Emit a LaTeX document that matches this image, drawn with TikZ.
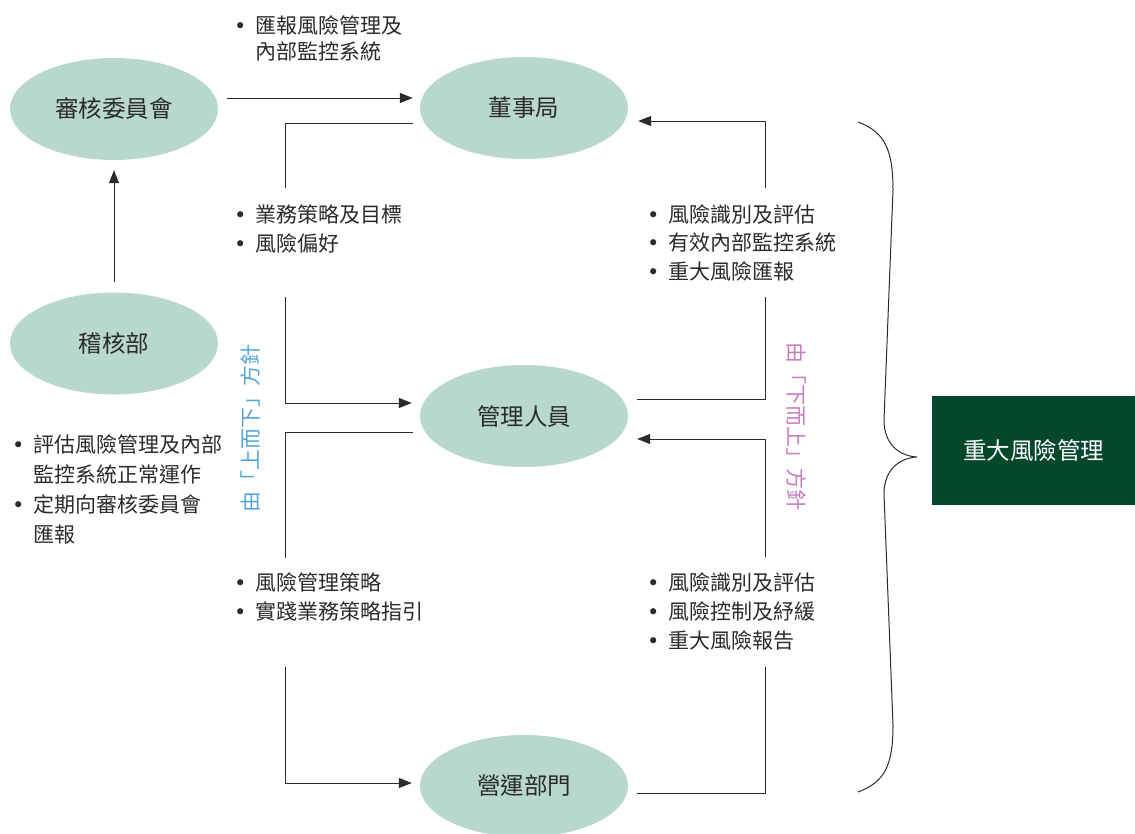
\documentclass[tikz,border=0pt]{standalone}
\usepackage{fontspec}
\setmainfont{Noto Sans CJK TC}
\newfontfamily\dejavu{DejaVu Sans}
\usetikzlibrary{arrows.meta,calc,shapes.geometric}
\definecolor{ellfill}{HTML}{B8D8CB}
\definecolor{boxgreen}{HTML}{03472D}
\definecolor{topdown}{HTML}{55A4DA}
\definecolor{bottomup}{HTML}{C87CBE}
\definecolor{ink}{HTML}{2B2B2B}
\newcommand\bl{\makebox[21pt][l]{\dejavu •}}
\newcommand\ind{\hspace*{21pt}}
\begin{document}
\begin{tikzpicture}[x=1pt,y=-1pt,
  ell/.style={ellipse, fill=ellfill, minimum width=208pt, minimum height=102pt, inner sep=0pt,
    font=\fontsize{23.5}{28}\selectfont, text=ink},
  conn/.style={line width=1pt, draw=ink},
  arr/.style={conn, -{Triangle[length=13pt,width=10pt]}},
  bul/.style={anchor=base west, inner sep=0pt, align=left, font=\fontsize{21}{29}\selectfont, text=ink},
  vtext/.style={inner sep=0pt, font=\fontsize{21}{21}\selectfont}]
\useasboundingbox (0,0) rectangle (1135,833);

% ellipses
\node[ell] (acm) at (114,109) {審核委員會};
\node[ell] (board) at (524,108) {董事局};
\node[ell] (audit) at (114,343.5) {稽核部};
\node[ell] (mgmt) at (524,416) {管理人員};
\node[ell] (ops) at (524,786) {營運部門};

% dark box
\node[fill=boxgreen, minimum width=203pt, minimum height=109pt, inner sep=0pt, text=white,
  font=\fontsize{23.5}{28}\selectfont] (risk) at (1033.5,450.5) {重大風險管理};

% text blocks (anchor = baseline of last line)
\node[bul, font=\fontsize{21}{26}\selectfont] (t1) at (234,59) {\bl 匯報風險管理及\\ \ind 內部監控系統};
\node[bul] (t2) at (234,251) {\bl 業務策略及目標\\ \bl 風險偏好};
\node[bul, font=\fontsize{21}{28.5}\selectfont] (t3) at (647,279) {\bl 風險識別及評估\\ \bl 有效內部監控系統\\ \bl 重大風險匯報};
\node[bul] (t4) at (234,619) {\bl 風險管理策略\\ \bl 實踐業務策略指引};
\node[bul] (t5) at (647,648) {\bl 風險識別及評估\\ \bl 風險控制及紓緩\\ \bl 重大風險報告};
\node[bul, font=\fontsize{21}{29.7}\selectfont] (t6) at (12,542) {\bl 評估風險管理及內部\\ \ind 監控系統正常運作\\ \bl 定期向審核委員會\\ \ind 匯報};

% vertical labels
\node[vtext, rotate=90, text=topdown] (td) at (251,428) {由「上而下」方針};
\node[vtext, rotate=-90, text=bottomup] (bu) at (796,426) {由「下而上」方針};

% gap coordinates
\coordinate (g1a) at (285,188);
\coordinate (g1b) at (285,297);
\coordinate (g2a) at (285,558);
\coordinate (g2b) at (285,667);
\coordinate (g3a) at (765,297);
\coordinate (g3b) at (765,188);
\coordinate (g4a) at (765,667);
\coordinate (g4b) at (765,557);

% connectors
\draw[arr] ($(acm.east)+(9,-11)$) -- ($(board.west)+(-7,-10)$);
\draw[arr] ($(audit.north)+(0,-10)$) -- ($(acm.south)+(0,10)$);

\draw[conn] ($(board.west)+(-7,15)$) -| (g1a);
\draw[arr] (g1b) |- ($(mgmt.west)+(-8,-13)$);

\draw[conn] ($(mgmt.west)+(-7,16)$) -| (g2a);
\draw[arr] (g2b) |- ($(ops.west)+(-8,-3)$);

\draw[conn] ($(mgmt.east)+(9,-17)$) -| (g3a);
\draw[arr] (g3b) |- ($(board.east)+(10,13)$);

\draw[conn] ($(ops.east)+(9,7)$) -| (g4a);
\draw[arr] (g4b) |- ($(mgmt.east)+(9,23)$);

% brace
\draw[line width=1pt, draw=ink] (858,122) .. controls (885,132) and (893,150) .. (893,190)
  -- (884,420) .. controls (884,445) and (900,456) .. (917,457)
  .. controls (900,458) and (884,469) .. (884,494)
  -- (893,725) .. controls (893,765) and (885,782) .. (858,792);
\end{tikzpicture}
\end{document}
